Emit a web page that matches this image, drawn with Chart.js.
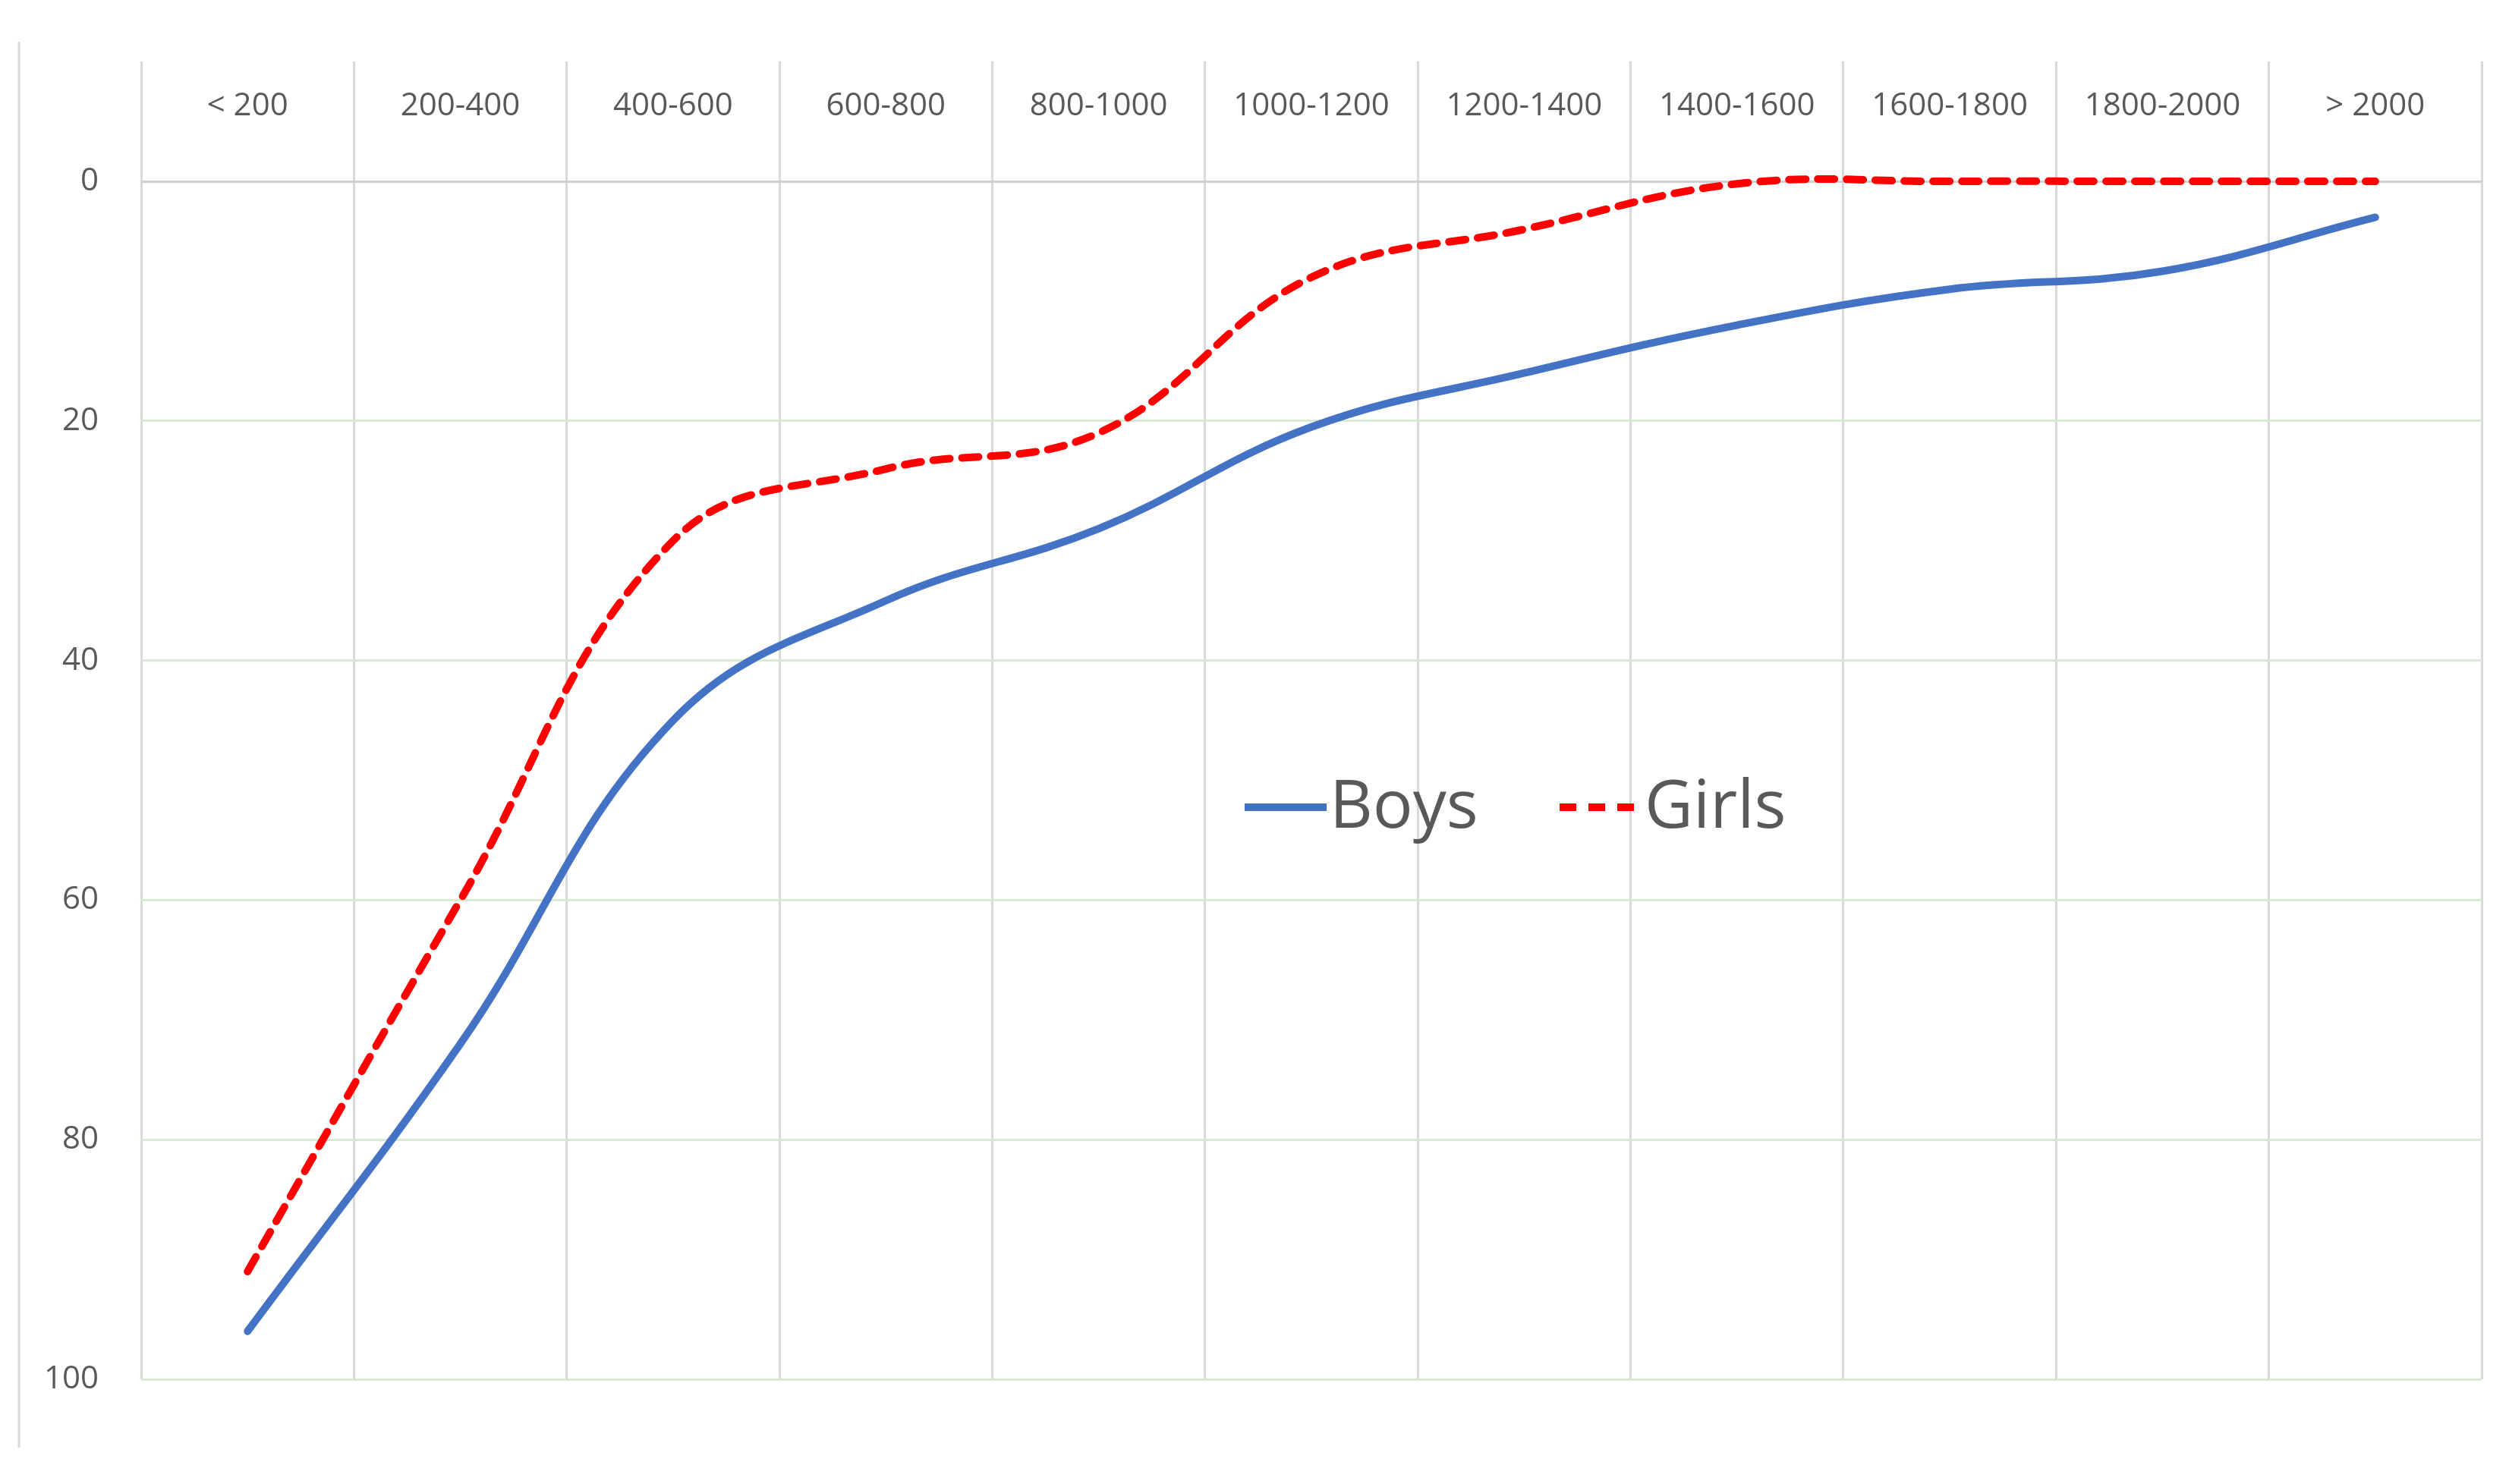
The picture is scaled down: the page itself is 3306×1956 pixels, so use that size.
<!DOCTYPE html>
<html>
<head>
<meta charset="utf-8">
<script src="https://cdn.jsdelivr.net/npm/chart.js@4.4.1/dist/chart.umd.min.js"></script>
<style>
  html, body { margin: 0; padding: 0; background: #fff; }
  #wrap { width: 3306px; height: 1956px; }
</style>
</head>
<body>
<div id="wrap"><canvas id="chart" width="3306" height="1956"></canvas></div>
<script>
var categories = ["< 200", "200-400", "400-600", "600-800", "800-1000", "1000-1200",
  "1200-1400", "1400-1600", "1600-1800", "1800-2000", "> 2000"];
var boys = [96, 72, 45, 35, 29, 20.5, 16, 12, 9, 7.5, 3];
var girls = [91, 60, 30, 24, 21, 8, 4, 0.2, 0, 0, 0];
var yTicks = [0, 20, 40, 60, 80, 100];

var textColor = "#595959";
var font = "'Open Sans', sans-serif";

var decor = {
  id: "decor",
  afterDraw: function (chart) {
    var ctx = chart.ctx;
    var x = chart.scales.x;
    ctx.save();
    // category labels in the top strip
    ctx.fillStyle = textColor;
    ctx.font = "42px " + font;
    ctx.textAlign = "center";
    ctx.textBaseline = "middle";
    categories.forEach(function (c, i) {
      ctx.fillText(c, x.getPixelForValue(i), 140);
    });
    // outer left line
    ctx.strokeStyle = "#d9d9d9";
    ctx.lineWidth = 3;
    ctx.beginPath();
    ctx.moveTo(25, 55);
    ctx.lineTo(25, 1908);
    ctx.stroke();
    // legend
    ctx.font = "88px " + font;
    ctx.textAlign = "left";
    var items = [
      { label: "Boys", color: "#4472c4", dash: [], x: 1640 },
      { label: "Girls", color: "#ff0000", dash: [22, 16], x: 2055 }
    ];
    items.forEach(function (it) {
      ctx.strokeStyle = it.color;
      ctx.lineWidth = 10;
      ctx.setLineDash(it.dash);
      ctx.beginPath();
      ctx.moveTo(it.x, 1064);
      ctx.lineTo(it.x + 108, 1064);
      ctx.stroke();
      ctx.setLineDash([]);
      ctx.fillStyle = textColor;
      ctx.fillText(it.label, it.x + 112, 1066);
    });
    ctx.restore();
  }
};

new Chart(document.getElementById("chart"), {
  type: "line",
  data: {
    labels: categories,
    datasets: [
      {
        label: "Boys",
        data: boys,
        borderColor: "#4472c4",
        borderWidth: 10,
        borderCapStyle: "round",
        pointRadius: 0,
        tension: 0.4
      },
      {
        label: "Girls",
        data: girls,
        borderColor: "#ff0000",
        borderWidth: 10,
        borderDash: [22, 16],
        borderCapStyle: "round",
        pointRadius: 0,
        tension: 0.4
      }
    ]
  },
  options: {
    responsive: false,
    animation: false,
    layout: { padding: { top: 26, right: 36, bottom: 138, left: 0 } },
    plugins: { legend: { display: false }, tooltip: { enabled: false } },
    scales: {
      x: {
        position: "top",
        offset: true,
        grid: { offset: true, color: "#d9d9d9", lineWidth: 3, drawTicks: false },
        border: { display: false },
        ticks: { display: false },
        afterFit: function (s) { s.height = 0; }
      },
      y: {
        reverse: true,
        min: -10,
        max: 100,
        afterBuildTicks: function (s) {
          s.ticks = yTicks.map(function (v) { return { value: v }; });
        },
        afterFit: function (s) { s.width = 186; },
        grid: {
          drawTicks: false,
          lineWidth: 3,
          color: function (c) { return c.tick && c.tick.value === 0 ? "#d0d0d0" : "#d9ead3"; }
        },
        border: { display: false },
        ticks: { padding: 56, color: textColor, font: { size: 42, family: font } }
      }
    }
  },
  plugins: [decor]
});
</script>
</body>
</html>
